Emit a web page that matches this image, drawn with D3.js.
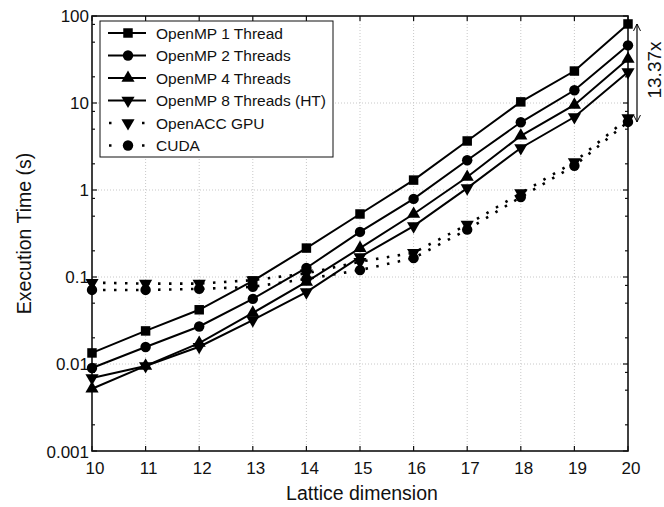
<!DOCTYPE html>
<html>
<head>
<meta charset="utf-8">
<script src="https://cdn.jsdelivr.net/npm/d3@7"></script>
<style>
  body { margin: 0; background: #fff; }
  text { font-family: "Liberation Sans", Arial, sans-serif; fill: #111; }
</style>
</head>
<body>
<div id="chart"></div>
<script>
const dims = [10, 11, 12, 13, 14, 15, 16, 17, 18, 19, 20];
const omp1 = [0.0134, 0.024, 0.042, 0.09, 0.215, 0.53, 1.3, 3.66, 10.3, 23.3, 81];
const omp2 = [0.009, 0.0157, 0.027, 0.056, 0.127, 0.33, 0.79, 2.2, 6.0, 14, 46];
const omp4 = [0.0052, 0.0095, 0.0174, 0.0386, 0.088, 0.215, 0.53, 1.41, 4.2, 9.5, 32];
const omp8 = [0.0069, 0.0095, 0.0158, 0.032, 0.067, 0.17, 0.385, 1.05, 3.04, 6.9, 22.7];
const openacc = [0.086, 0.084, 0.084, 0.092, 0.11, 0.15, 0.19, 0.4, 0.92, 2.1, 6.7];
const cuda = [0.071, 0.071, 0.073, 0.077, 0.095, 0.12, 0.165, 0.35, 0.83, 1.9, 6.06];
const yTicks = [0.001, 0.01, 0.1, 1, 10, 100];
const yTickLabels = ["0.001", "0.01", "0.1", "1", "10", "100"];
const speedupLabel = "13.37x";

const series = [
  { name: "OpenMP 1 Thread", values: omp1, symbol: "square", dotted: false },
  { name: "OpenMP 2 Threads", values: omp2, symbol: "circle", dotted: false },
  { name: "OpenMP 4 Threads", values: omp4, symbol: "up", dotted: false },
  { name: "OpenMP 8 Threads (HT)", values: omp8, symbol: "down", dotted: false },
  { name: "OpenACC GPU", values: openacc, symbol: "down", dotted: true },
  { name: "CUDA", values: cuda, symbol: "circle", dotted: true }
];

const width = 664, height = 507;
const margin = { left: 92, right: 36, top: 16, bottom: 56 };

const svg = d3.select("#chart").append("svg")
  .attr("width", width)
  .attr("height", height);

const x = d3.scaleLinear().domain([10, 20]).range([margin.left, width - margin.right]);
const y = d3.scaleLog().domain([0.001, 100]).range([height - margin.bottom, margin.top]);

const x0 = x.range()[0], x1 = x.range()[1];
const y0 = y.range()[0], y1 = y.range()[1];

// grid
svg.append("g").selectAll("line.gx")
  .data(dims.slice(1, -1))
  .join("line")
  .attr("x1", d => x(d)).attr("x2", d => x(d))
  .attr("y1", y0).attr("y2", y1)
  .attr("stroke", "#c8c8c8").attr("stroke-width", 1)
  .attr("stroke-dasharray", "1,2");
svg.append("g").selectAll("line.gy")
  .data(yTicks.slice(1, -1))
  .join("line")
  .attr("x1", x0).attr("x2", x1)
  .attr("y1", d => y(d)).attr("y2", d => y(d))
  .attr("stroke", "#c8c8c8").attr("stroke-width", 1)
  .attr("stroke-dasharray", "1,2");

// ticks (inward, all four sides)
const minor = [];
yTicks.slice(0, -1).forEach(t => [2, 5, 8].forEach(m => minor.push(t * m)));
const tickG = svg.append("g").attr("stroke", "#111").attr("stroke-width", 1.2);
dims.forEach(d => {
  tickG.append("line").attr("x1", x(d)).attr("x2", x(d)).attr("y1", y0).attr("y2", y0 - 5);
  tickG.append("line").attr("x1", x(d)).attr("x2", x(d)).attr("y1", y1).attr("y2", y1 + 5);
});
yTicks.forEach(t => {
  tickG.append("line").attr("x1", x0).attr("x2", x0 + 5).attr("y1", y(t)).attr("y2", y(t));
  tickG.append("line").attr("x1", x1).attr("x2", x1 - 5).attr("y1", y(t)).attr("y2", y(t));
});
minor.forEach(t => {
  tickG.append("line").attr("x1", x0).attr("x2", x0 + 3).attr("y1", y(t)).attr("y2", y(t));
  tickG.append("line").attr("x1", x1).attr("x2", x1 - 3).attr("y1", y(t)).attr("y2", y(t));
});

// frame
svg.append("rect")
  .attr("x", x0).attr("y", y1)
  .attr("width", x1 - x0).attr("height", y0 - y1)
  .attr("fill", "none").attr("stroke", "#111").attr("stroke-width", 1.6);

// tick labels
svg.append("g").selectAll("text")
  .data(dims)
  .join("text")
  .attr("x", d => x(d) + 3)
  .attr("y", y0 + 23)
  .attr("text-anchor", "middle")
  .style("font-size", "17px")
  .text(d => d);
svg.append("g").selectAll("text")
  .data(yTicks)
  .join("text")
  .attr("x", x0 - 3)
  .attr("y", (d, i) => y(d) + (i === 0 ? 7 : 6))
  .attr("text-anchor", "end")
  .style("font-size", "17px")
  .text((d, i) => yTickLabels[i]);

// axis titles
svg.append("text")
  .attr("x", (x0 + x1) / 2 + 2)
  .attr("y", 500)
  .attr("text-anchor", "middle")
  .style("font-size", "19.5px")
  .text("Lattice dimension");
svg.append("text")
  .attr("transform", `translate(31,${(y0 + y1) / 2}) rotate(-90)`)
  .attr("text-anchor", "middle")
  .style("font-size", "19.5px")
  .text("Execution Time (s)");

// markers
const symbolPath = {
  square: d3.symbol(d3.symbolSquare, 90)(),
  circle: d3.symbol(d3.symbolCircle, 85)(),
  up: d3.symbol(d3.symbolTriangle, 75)(),
  down: d3.symbol(d3.symbolTriangle, 75)()
};
function marker(g, s, px, py) {
  const rot = s.symbol === "down" ? " rotate(180)" : "";
  g.append("path")
    .attr("d", symbolPath[s.symbol])
    .attr("transform", `translate(${px},${py})${rot}`)
    .attr("fill", "#000");
}

const line = d3.line()
  .x((d, i) => x(dims[i]))
  .y(d => y(d));

series.slice().reverse().forEach(s => {
  svg.append("path")
    .datum(s.values)
    .attr("d", line)
    .attr("fill", "none")
    .attr("stroke", "#000")
    .attr("stroke-width", s.dotted ? 2.6 : 2)
    .attr("stroke-dasharray", s.dotted ? "2.5,8.5" : null);
  const g = svg.append("g");
  s.values.forEach((v, i) => marker(g, s, x(dims[i]), y(v)));
});

// speedup annotation
const ax = x1 + 9;
svg.append("defs").append("marker")
  .attr("id", "ah")
  .attr("viewBox", "0 0 10 10")
  .attr("refX", 10).attr("refY", 5)
  .attr("markerWidth", 7).attr("markerHeight", 9)
  .attr("orient", "auto-start-reverse")
  .attr("markerUnits", "userSpaceOnUse")
  .append("path")
  .attr("d", "M0,0L10,5L0,10")
  .attr("fill", "none").attr("stroke", "#000").attr("stroke-width", 1.4);
svg.append("line")
  .attr("x1", ax).attr("x2", ax)
  .attr("y1", y(omp1[omp1.length - 1]))
  .attr("y2", y(cuda[cuda.length - 1]))
  .attr("stroke", "#000").attr("stroke-width", 1.2)
  .attr("marker-start", "url(#ah)")
  .attr("marker-end", "url(#ah)");
svg.append("text")
  .attr("transform", `translate(${ax + 24},70) rotate(-90)`)
  .attr("text-anchor", "middle")
  .style("font-size", "19px")
  .text(speedupLabel);

// legend
const lg = svg.append("g").attr("transform", "translate(100,21)");
lg.append("rect")
  .attr("width", 233).attr("height", 136)
  .attr("fill", "#fff").attr("stroke", "#111").attr("stroke-width", 1);
series.forEach((s, i) => {
  const ly = 12 + i * 22.5;
  lg.append("line")
    .attr("x1", s.dotted ? 9 : 8).attr("x2", 46)
    .attr("y1", ly).attr("y2", ly)
    .attr("stroke", "#000")
    .attr("stroke-width", s.dotted ? 2.6 : 2)
    .attr("stroke-dasharray", s.dotted ? "2.5,14" : null);
  marker(lg, s, 28, ly);
  lg.append("text")
    .attr("x", 56).attr("y", ly + 5.5)
    .style("font-size", "15.5px")
    .text(s.name);
});
</script>
</body>
</html>
